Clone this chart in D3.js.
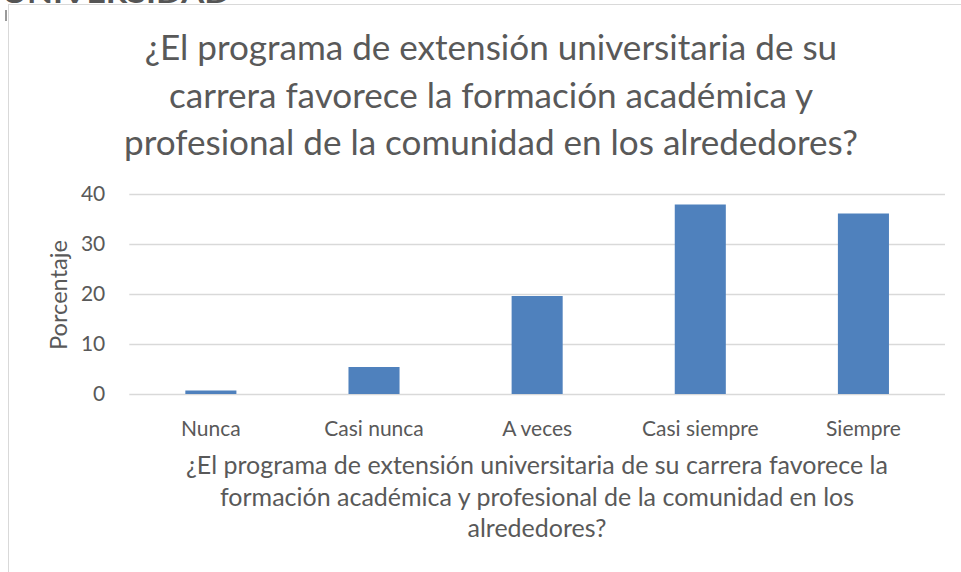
<!DOCTYPE html>
<html>
<head>
<meta charset="utf-8">
<script src="https://cdn.jsdelivr.net/npm/d3@7"></script>
<style>
html,body{margin:0;padding:0;background:#fff;}
svg{display:block;}
text{font-family:Lato,"Noto Sans",sans-serif;fill:#595959;}
</style>
</head>
<body>
<svg id="chart" width="961" height="572"></svg>
<script>
const categories = ["Nunca", "Casi nunca", "A veces", "Casi siempre", "Siempre"];
const values = [0.7, 5.4, 19.6, 37.9, 36.1];
const yTicks = [0, 10, 20, 30, 40];
const titleLines = [
  "¿El programa de extensión universitaria de su",
  "carrera favorece la formación académica y",
  "profesional de la comunidad en los alrededores?"
];
const xTitleLines = [
  "¿El programa de extensión universitaria de su carrera favorece la",
  "formación académica y profesional de la comunidad en los",
  "alrededores?"
];
const yTitle = "Porcentaje";
const headerText = "UNIVERSIDAD";

const svg = d3.select("#chart");

// fit a set of text elements so the widest reaches target width
function fitFont(sel, target, base) {
  sel.style("font-size", base + "px");
  let w = 0;
  sel.each(function(){ w = Math.max(w, this.getComputedTextLength()); });
  const fs = base * target / w;
  sel.style("font-size", fs + "px");
  return fs;
}

// cut-off header text at top
svg.append("text")
  .attr("x", 2).attr("y", 3)
  .attr("font-weight", "bold")
  .style("font-size", "26px")
  .style("fill", "#555")
  .attr("textLength", 228)
  .attr("lengthAdjust", "spacingAndGlyphs")
  .text(headerText);

// small mark on left
svg.append("line").attr("x1", 6).attr("x2", 6).attr("y1", 10).attr("y2", 21)
  .attr("stroke", "#777").attr("stroke-width", 1.5);

// chart frame
svg.append("rect")
  .attr("x", 8.5).attr("y", 4.5).attr("width", 970).attr("height", 600)
  .attr("fill", "#fff").attr("stroke", "#d9d9d9").attr("stroke-width", 1);

const x = d3.scaleBand().domain(categories).range([129.3, 945])
  .paddingInner(0.687).paddingOuter(0.3435);
const y = d3.scaleLinear().domain([0, 40]).range([394, 194]);

// gridlines
const yAxis = d3.axisLeft(y).tickValues(yTicks).tickSize(-(945 - 129.3)).tickPadding(24).tickFormat(d3.format("d"));
const gy = svg.append("g").attr("transform", "translate(129.3,0)").call(yAxis);
gy.select(".domain").remove();
gy.selectAll(".tick line").attr("stroke", "#d9d9d9").attr("stroke-width", 1.5);
gy.selectAll(".tick text").style("font-size", "21px").style("fill", "#595959").attr("font-family", null);

// bars
svg.append("g").selectAll("rect").data(values).join("rect")
  .attr("x", (d, i) => x(categories[i]))
  .attr("width", x.bandwidth())
  .attr("y", d => y(d))
  .attr("height", d => y(0) - y(d))
  .attr("fill", "#4f81bd");

// x axis labels
const xAxis = d3.axisBottom(x).tickSize(0).tickPadding(0);
const gx = svg.append("g").attr("transform", "translate(0,394)").call(xAxis);
gx.select(".domain").remove();
gx.selectAll(".tick text").attr("dy", null).attr("y", 42).style("font-size", "21px").style("fill", "#595959").attr("font-family", null);

// title
const tSel = svg.append("g").selectAll("text").data(titleLines).join("text")
  .attr("x", 491).attr("y", (d, i) => 60 + i * 47.5)
  .attr("text-anchor", "middle").text(d => d);
fitFont(tSel, 734, 34);

// x axis title
const xtSel = svg.append("g").selectAll("text").data(xTitleLines).join("text")
  .attr("x", 537).attr("y", (d, i) => 474 + i * 31.5)
  .attr("text-anchor", "middle").text(d => d);
fitFont(xtSel, 702, 21);

// y axis title
const ytSel = svg.append("text")
  .attr("transform", "translate(67,295) rotate(-90)")
  .attr("text-anchor", "middle").text(yTitle);
fitFont(ytSel, 110, 21);
</script>
</body>
</html>
